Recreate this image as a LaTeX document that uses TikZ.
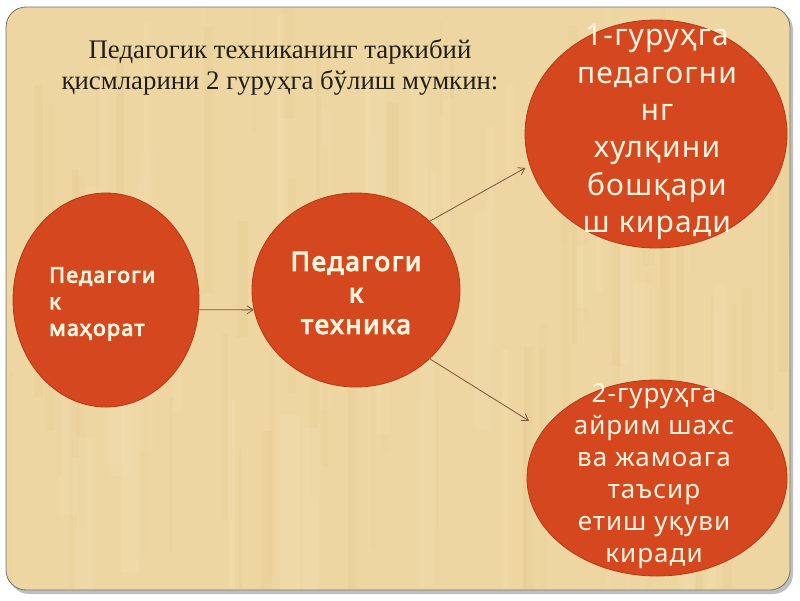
\documentclass[tikz,border=0pt]{standalone}
\usepackage{fontspec}
\setmainfont{Liberation Serif}
\newfontfamily\ellfont[LetterSpace=4]{Noto Sans}
\newfontfamily\ellbold[LetterSpace=6,FakeBold=4]{Noto Sans}
\usetikzlibrary{shapes.geometric,arrows.meta}
\definecolor{paper}{RGB}{237,214,162}
\definecolor{paperdark}{RGB}{226,198,140}
\definecolor{paperlight}{RGB}{244,226,182}
\definecolor{redfill}{RGB}{213,71,30}
\definecolor{redline}{RGB}{180,58,22}
\definecolor{txtcream}{RGB}{255,244,222}
\definecolor{arrowcol}{RGB}{120,85,55}
\definecolor{titlecol}{RGB}{35,30,25}
\tikzset{
  blob/.style={ellipse, fill=redfill, draw=redline, line width=0.8pt, inner sep=0pt},
  blobtext/.style={text=txtcream, align=center, inner sep=0pt},
  arr/.style={draw=arrowcol, line width=0.8pt, -{Straight Barb[length=6pt,width=8pt]}}
}
\begin{document}
\begin{tikzpicture}[x=1pt,y=-1pt]
\useasboundingbox (0,0) rectangle (800,600);
\fill[white] (0,0) rectangle (800,600);
% shadow
\fill[black!25,rounded corners=20pt] (9,10) rectangle (793,594);
% panel
\fill[paper,rounded corners=20pt] (6,7) rectangle (790,590);
\begin{scope}
\clip[rounded corners=20pt] (6,7) rectangle (790,590);
\pgfmathsetseed{7}
\foreach \i in {1,...,60}{
  \pgfmathsetmacro{\xx}{10+rnd*780}
  \pgfmathsetmacro{\ww}{2+rnd*10}
  \pgfmathsetmacro{\yy}{rnd*450}
  \pgfmathsetmacro{\hh}{60+rnd*300}
  \pgfmathsetmacro{\op}{0.10+rnd*0.15}
  \fill[paperdark,opacity=\op] (\xx,\yy) rectangle ++(\ww,\hh);
}
\foreach \i in {1,...,45}{
  \pgfmathsetmacro{\xx}{10+rnd*780}
  \pgfmathsetmacro{\ww}{3+rnd*18}
  \pgfmathsetmacro{\yy}{rnd*450}
  \pgfmathsetmacro{\hh}{60+rnd*300}
  \pgfmathsetmacro{\op}{0.12+rnd*0.18}
  \fill[paperlight,opacity=\op] (\xx,\yy) rectangle ++(\ww,\hh);
}
\end{scope}
\draw[black!55,line width=0.8pt,rounded corners=20pt] (6,7) rectangle (790,590);

% title
\node[text=titlecol, align=center, font=\fontsize{26.8}{31}\selectfont, inner sep=0pt] (title) at (280,67)
  {Педагогик техниканинг таркибий\\қисмларини 2 гуруҳга бўлиш мумкин:};

% ellipses
\node[blob, minimum width=186pt, minimum height=214pt] (e0) at (106,300) {};
\node[blob, minimum width=208pt, minimum height=194pt] (e1) at (356,290) {};
\node[blob, minimum width=262pt, minimum height=228pt] (e2) at (656,134) {};
\node[blob, minimum width=260pt, minimum height=196pt] (e3) at (657,478) {};

% texts
\node[blobtext, align=left, anchor=west, font=\ellbold\fontsize{21.5}{26.5}\selectfont] (t0) at (49,304)
  {Педагоги\\к\\маҳорат};
\node[blobtext, font=\ellbold\fontsize{26.5}{31.5}\selectfont] (t1) at (356,293)
  {Педагоги\\к\\техника};
\node[blobtext, font=\ellfont\fontsize{30}{37.3}\selectfont] (t2) at (657,132)
  {1-гуруҳга\\педагогни\\нг\\хулқини\\бошқари\\ш киради};
\node[blobtext, font=\ellfont\fontsize{26}{32}\selectfont] (t3) at (654,476)
  {2-гуруҳга\\айрим шахс\\ва жамоага\\таъсир\\етиш уқуви\\киради};

% arrows
\draw[arr] (e0.-6) -- (e1.191);
\draw[arr, shorten >=5pt] (e1.43) -- (e2.194);
\draw[arr, shorten >=17pt] (e1.-43) -- (e3.157.8);
\end{tikzpicture}
\end{document}
